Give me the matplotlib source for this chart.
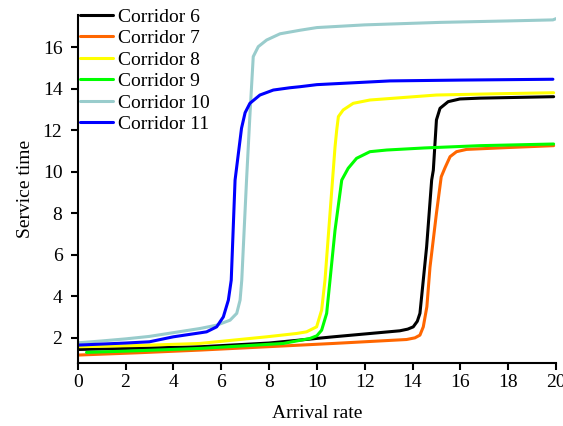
import matplotlib
matplotlib.use("Agg")
import matplotlib.pyplot as plt
import numpy as np

plt.rcParams['font.family'] = ['Liberation Serif', 'DejaVu Serif']

# corridor 6 (black)
x6 = [0, 2.5, 5.11, 8.0, 10.69, 13.47, 13.8, 14.03, 14.2, 14.31, 14.45, 14.59, 14.8, 14.87, 15.0, 15.15, 15.49, 15.98, 16.82, 19.9]
y6 = [1.44, 1.5, 1.57, 1.75, 2.05, 2.34, 2.42, 2.53, 2.8, 3.18, 4.78, 6.39, 9.6, 10.08, 12.5, 13.06, 13.38, 13.51, 13.55, 13.62]

# corridor 7 (orange)
x7 = [0, 2.5, 5.11, 7.9, 10.69, 13.75, 14.1, 14.31, 14.45, 14.6, 14.73, 15.0, 15.2, 15.36, 15.57, 15.84, 16.26, 18, 19.9]
y7 = [1.17, 1.28, 1.41, 1.57, 1.73, 1.92, 2.0, 2.13, 2.53, 3.5, 5.4, 8.0, 9.76, 10.2, 10.73, 10.97, 11.08, 11.17, 11.26]

# corridor 8 (yellow)
x8 = [0, 2.5, 5.11, 7.9, 9.15, 9.57, 9.99, 10.2, 10.34, 10.55, 10.76, 10.83, 10.9, 11.1, 11.52, 12.22, 15.0, 17.5, 19.9]
y8 = [1.57, 1.63, 1.73, 2.05, 2.21, 2.29, 2.53, 3.34, 4.78, 8.0, 11.2, 12.01, 12.66, 12.98, 13.3, 13.46, 13.7, 13.76, 13.81]

# corridor 9 (green)
x9 = [0.37, 2.5, 5.11, 8.6, 9.71, 10.0, 10.2, 10.41, 10.55, 10.76, 11.04, 11.31, 11.66, 12.22, 12.92, 14.5, 16.82, 19.9]
y9 = [1.3, 1.38, 1.49, 1.73, 1.97, 2.1, 2.37, 3.18, 4.78, 7.19, 9.6, 10.17, 10.65, 10.97, 11.05, 11.15, 11.26, 11.34]

# corridor 10 (light blue)
x10 = [0, 1, 2, 3, 4, 5.11, 5.81, 6.37, 6.65, 6.79, 6.86, 7.06, 7.2, 7.34, 7.55, 7.9, 8.46, 9.29, 10, 12, 15.15, 18, 19.87, 20]
y10 = [1.76, 1.85, 1.95, 2.07, 2.25, 2.45, 2.61, 2.85, 3.18, 3.82, 4.78, 9.6, 12.7, 15.55, 16.03, 16.35, 16.65, 16.82, 16.95, 17.08, 17.2, 17.27, 17.32, 17.38]

# corridor 11 (blue)
x11 = [0, 1, 2, 3, 4, 5.11, 5.39, 5.81, 6.09, 6.3, 6.42, 6.58, 6.85, 7.0, 7.2, 7.62, 8.18, 8.87, 9.29, 10, 13.06, 16, 19.87]
y11 = [1.65, 1.7, 1.75, 1.81, 2.05, 2.24, 2.29, 2.53, 3.01, 3.82, 4.78, 9.6, 12.1, 12.85, 13.3, 13.7, 13.94, 14.05, 14.1, 14.2, 14.38, 14.42, 14.46]

series = [
    ("Corridor 6", x6, y6, "#000000"),
    ("Corridor 7", x7, y7, "#FF6600"),
    ("Corridor 8", x8, y8, "#FFFF00"),
    ("Corridor 9", x9, y9, "#00FF00"),
    ("Corridor 10", x10, y10, "#99CCCC"),
    ("Corridor 11", x11, y11, "#0000FF"),
]

fig = plt.figure(figsize=(5.63, 4.26), dpi=100)
ax = fig.add_axes([0.138, 0.147, 0.8496, 0.818])

for label, xs, ys, col in series:
    ax.plot(xs, ys, color=col, lw=2.2, label=label,
            solid_capstyle='round', solid_joinstyle='round')

ax.set_xlim(0, 20)
ax.set_ylim(0.77, 17.56)
ax.set_xticks(np.arange(0, 21, 2))
ax.set_yticks(np.arange(2, 17, 2))
ax.spines['top'].set_visible(False)
ax.spines['right'].set_visible(False)
ax.spines['left'].set_linewidth(1.5)
ax.spines['bottom'].set_linewidth(1.5)
ax.tick_params(direction='out', length=5, width=1.5, labelsize=14, colors='black', pad=3)
ax.tick_params(axis='y', pad=6)
ax.set_xlabel("Arrival rate", fontsize=14, labelpad=10)
ax.set_ylabel("Service time", fontsize=14, labelpad=6)

ax.legend(loc='upper left', bbox_to_anchor=(0.0, 1.025), frameon=False, fontsize=14,
          borderaxespad=0, handlelength=1.7, handletextpad=0.26, labelspacing=0.2,
          borderpad=0.1)

fig.savefig("out.png", dpi=100)
